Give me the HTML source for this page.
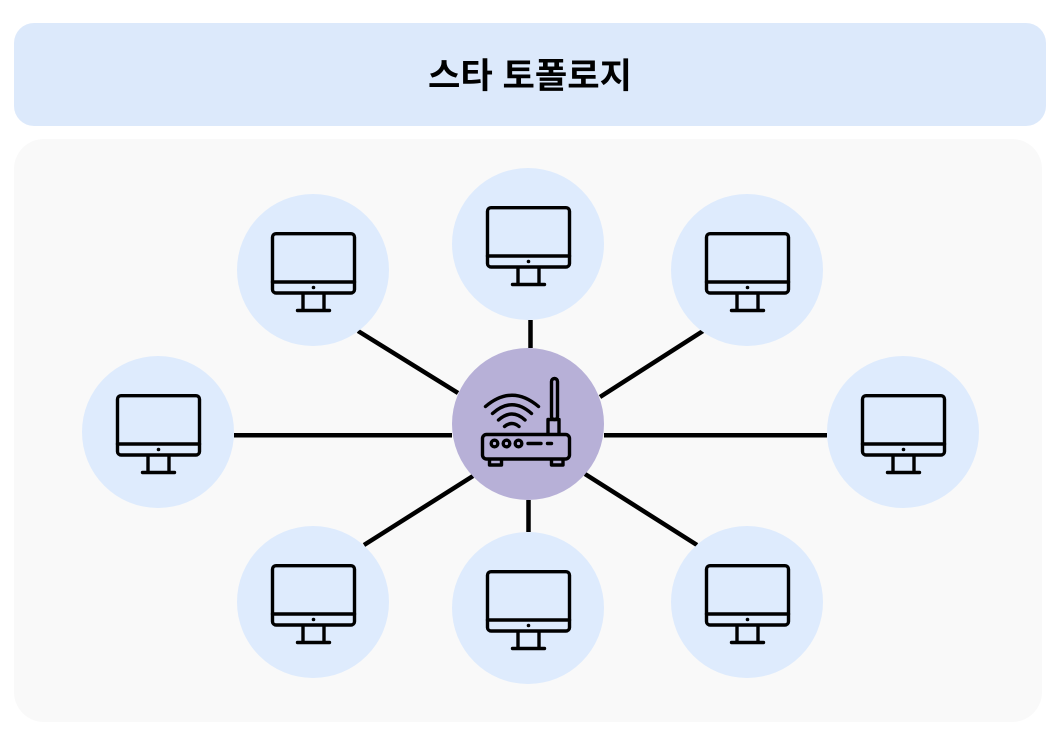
<!DOCTYPE html>
<html lang="ko">
<head>
<meta charset="utf-8">
<style>
html,body{margin:0;padding:0;background:#fff;}
svg{display:block;}
.i{fill:none;stroke:#000;stroke-width:3.400;stroke-linecap:round;stroke-linejoin:round;}
</style>
</head>
<body>
<svg width="1060" height="740" viewBox="0 0 1060 740" xmlns="http://www.w3.org/2000/svg">
<defs>
<g id="pc">
<circle cx="0" cy="0" r="76" fill="#deebfd"/>
<rect class="i" x="-40.500" y="-36.300" width="82" height="59.300" rx="3.500"/>
<path class="i" d="M-40.500 12H41.500"/>
<circle cx="0.500" cy="17.500" r="1.800" fill="#000"/>
<path class="i" d="M-10 24V40M11 24V40M-15.500 40.500H16.500"/>
</g>
</defs>
<rect x="14" y="23" width="1032" height="103" rx="20" fill="#dce9fb"/>
<rect x="14" y="139" width="1028" height="583" rx="30" fill="#f9f9f9"/>
<text x="530" y="88" text-anchor="middle" font-family="'Liberation Sans','Noto Sans CJK KR',sans-serif" font-size="35.200" font-weight="700" fill="#000">스타 토폴로지</text>
<g stroke="#000" stroke-width="4.500" fill="none">
<path d="M234 435.300H452M604 435.300H827"/>
<path d="M530.500 320V348M528.500 500V532"/>
<path d="M358 331L458 393M703 331L600 397M364 545L473 476M697 545L585 474"/>
</g>
<use href="#pc" x="313" y="270"/>
<use href="#pc" x="528" y="244"/>
<use href="#pc" x="747" y="270"/>
<use href="#pc" x="158" y="432"/>
<use href="#pc" x="903" y="432"/>
<use href="#pc" x="313" y="602"/>
<use href="#pc" x="528" y="608"/>
<use href="#pc" x="747" y="602"/>
<circle cx="528" cy="424" r="76" fill="#b7b0d7"/>
<g class="i">
<rect x="482.500" y="434.500" width="87" height="24.500" rx="4"/>
<path d="M489.500 459.500V465H501.500V459.500M551.500 459.500V465H563V459.500"/>
<rect x="551.500" y="378.500" width="6" height="41" rx="3"/>
<path d="M548 434V419.500H559V434"/>
<circle cx="494.500" cy="443.500" r="3.300"/>
<circle cx="506.500" cy="443.500" r="3.300"/>
<circle cx="518.500" cy="443.500" r="3.300"/>
<path d="M528 443.500H541M547.500 443.500H551.500"/>
<path d="M485.500 406.500Q512 384 538.500 406.500"/>
<path d="M492.500 413.500Q512 396 531.500 413.500"/>
<path d="M498.500 420Q512 408 525 420"/>
<path d="M504.500 426.500Q512 420.500 519 426.500"/>
</g>
</svg>
</body>
</html>
